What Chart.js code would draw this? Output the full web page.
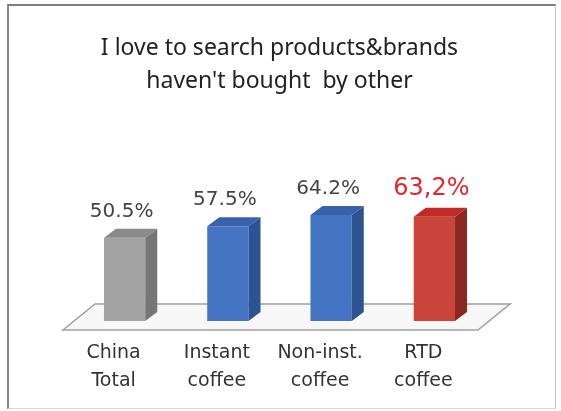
<!DOCTYPE html>
<html lang="en">
<head>
  <meta charset="UTF-8">
  <title>I love to search products&amp;brands</title>
  <script src="https://cdn.jsdelivr.net/npm/chart.js"></script>
  <style>
    html, body { margin: 0; padding: 0; background: #fff; }
    .frame {
      position: absolute;
      left: 7px; top: 4px;
      width: 549px; height: 405px;
      box-sizing: border-box;
      border-top: 2px solid #7f7f7f;
      border-left: 2px solid #8a8a8a;
      border-right: 1px solid #c8c8c8;
      border-bottom: 1px solid #d8d8d8;
    }
    #chart { position: absolute; left: 0; top: 0; }
  </style>
</head>
<body>
  <div class="frame"></div>
  <canvas id="chart" width="561" height="411"></canvas>

  <script>
    // --- data ---
    const categories = [['China', 'Total'], ['Instant', 'coffee'], ['Non-inst.', 'coffee'], ['RTD', 'coffee']];
    const values = [50.5, 57.5, 64.2, 63.2];
    const highlight = 3; // RTD coffee gets the big red label

    // front / side / top face colours for each bar
    const frontColors = ['#a3a3a3', '#4575c2', '#4575c2', '#c9443b'];
    const sideColors  = ['#767676', '#2d5392', '#2d5392', '#8c2822'];
    const topColors   = ['#8a8a8a', '#3863ac', '#3863ac', '#c22a2a'];

    const DX = 12, DY = -9; // depth offset of the 3D boxes

    function labelText(v, i) {
      const s = v.toFixed(1) + '%';
      return i === highlight ? s.replace('.', ',') : s;
    }

    // flat platform the bars stand on
    const floorPlugin = {
      id: 'floor',
      beforeDatasetsDraw(chart) {
        const { ctx, chartArea: a } = chart;
        ctx.save();
        ctx.beginPath();
        ctx.moveTo(a.left + 22, a.bottom - 17);
        ctx.lineTo(a.right + 24, a.bottom - 17);
        ctx.lineTo(a.right - 8, a.bottom + 9);
        ctx.lineTo(a.left - 10, a.bottom + 9);
        ctx.closePath();
        ctx.fillStyle = '#f7f7f7';
        ctx.fill();
        ctx.strokeStyle = '#a0a0a0';
        ctx.lineWidth = 1.5;
        ctx.stroke();
        ctx.restore();
      }
    };

    // side and top faces plus value labels
    const boxPlugin = {
      id: 'box3d',
      afterDatasetsDraw(chart) {
        const { ctx } = chart;
        const bars = chart.getDatasetMeta(0).data;
        ctx.save();
        bars.forEach((bar, i) => {
          const half = bar.width / 2;
          const l = bar.x - half, r = bar.x + half;
          // side
          ctx.beginPath();
          ctx.moveTo(r, bar.y);
          ctx.lineTo(r + DX, bar.y + DY);
          ctx.lineTo(r + DX, bar.base + DY);
          ctx.lineTo(r, bar.base);
          ctx.closePath();
          ctx.fillStyle = sideColors[i];
          ctx.fill();
          // top
          ctx.beginPath();
          ctx.moveTo(l, bar.y);
          ctx.lineTo(l + DX, bar.y + DY);
          ctx.lineTo(r + DX, bar.y + DY);
          ctx.lineTo(r, bar.y);
          ctx.closePath();
          ctx.fillStyle = topColors[i];
          ctx.fill();

          // value label
          const big = i === highlight;
          ctx.font = (big ? '24px' : '20px') + ' "DejaVu Sans"';
          ctx.fillStyle = big ? '#e5252d' : '#444';
          ctx.textAlign = 'center';
          ctx.textBaseline = 'middle';
          ctx.fillText(labelText(values[i], i), bar.x - 3, bar.y - (big ? 28 : 26));
        });
        ctx.restore();
      }
    };

    const ctx = document.getElementById('chart').getContext('2d');
    new Chart(ctx, {
      type: 'bar',
      data: {
        labels: categories,
        datasets: [{
          data: values,
          backgroundColor: frontColors,
          borderWidth: 0,
          categoryPercentage: 1,
          barPercentage: 0.4
        }]
      },
      options: {
        responsive: false,
        animation: false,
        layout: { padding: { top: 32, left: 73, right: 75, bottom: -2 } },
        plugins: {
          legend: { display: false },
          tooltip: { enabled: false },
          title: {
            display: true,
            text: ['I love to search products&brands', "haven't bought  by other"],
            color: '#222',
            font: { family: '"Noto Sans"', size: 23, weight: 'normal', lineHeight: '33px' },
            padding: { top: 0, bottom: 58 }
          }
        },
        scales: {
          x: {
            grid: { display: false, drawTicks: false },
            border: { display: false },
            ticks: {
              color: '#333',
              padding: 18,
              labelOffset: -11,
              font: { family: '"DejaVu Sans"', size: 19, lineHeight: '28px' }
            }
          },
          y: {
            display: false,
            min: 0,
            max: 100
          }
        }
      },
      plugins: [floorPlugin, boxPlugin]
    });
  </script>
</body>
</html>
